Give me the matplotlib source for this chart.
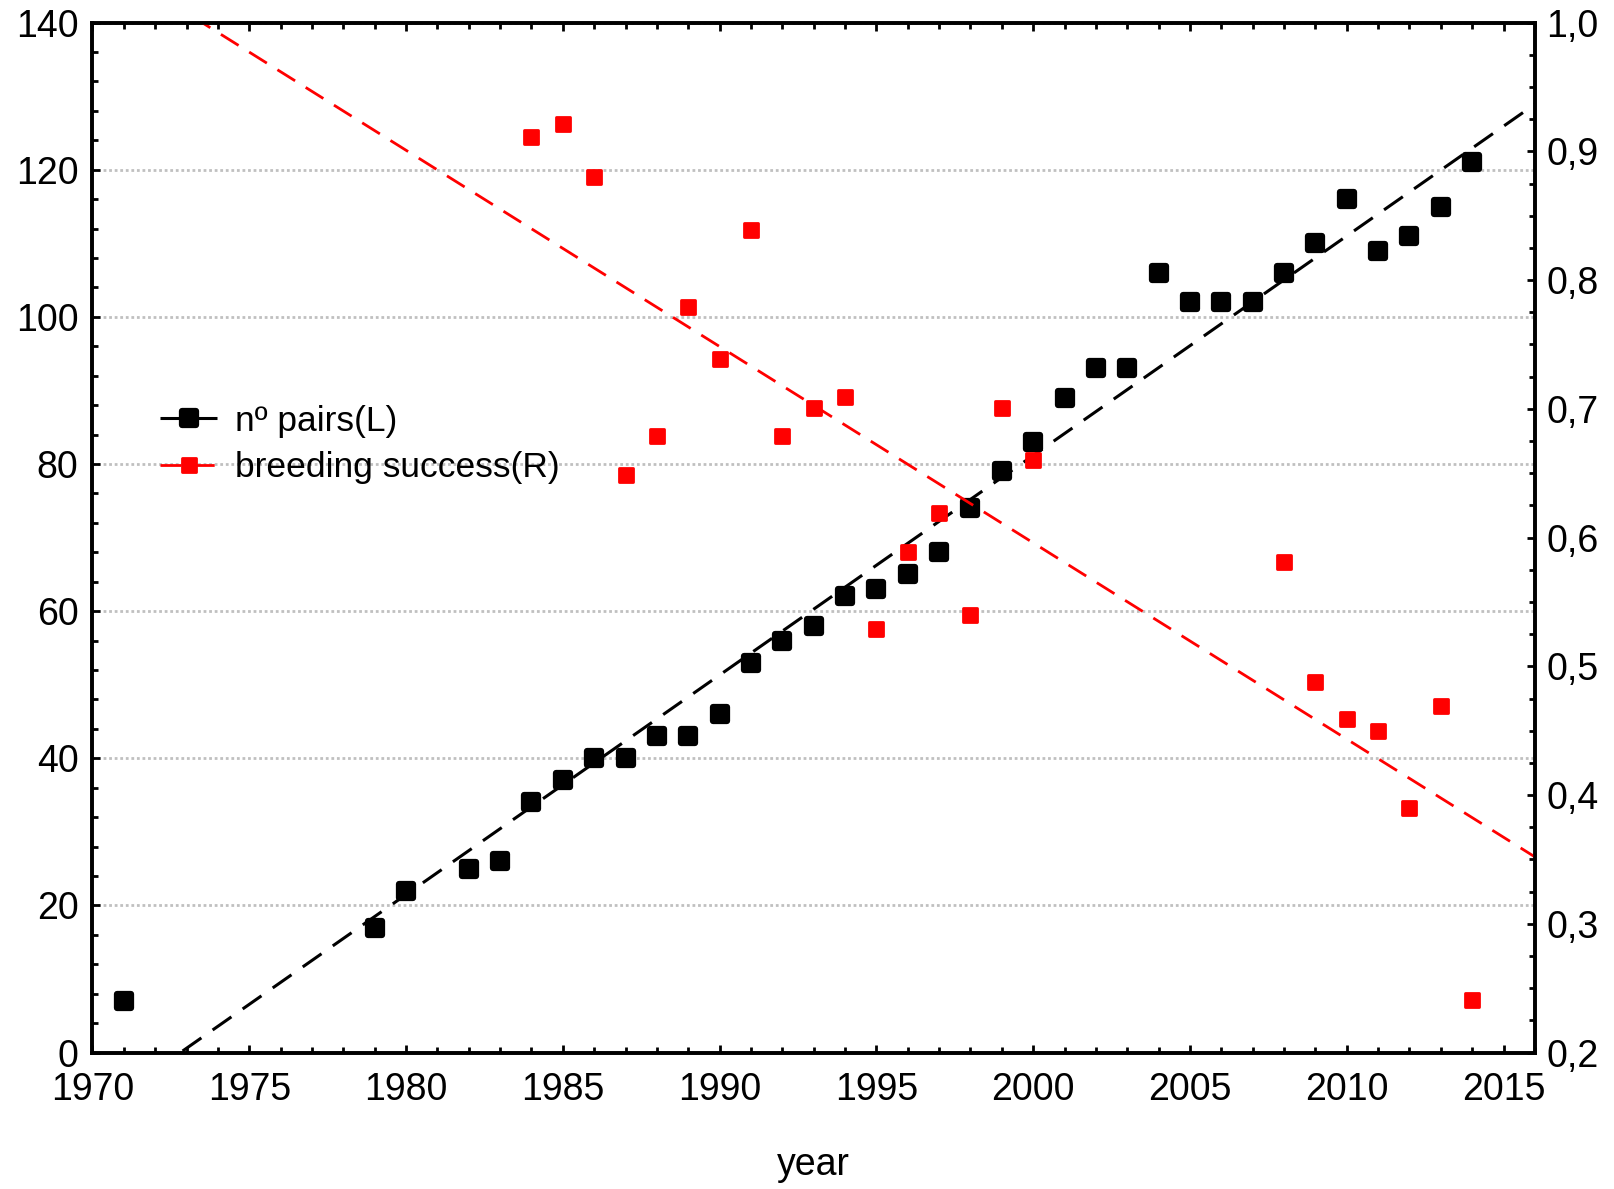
import numpy as np
import matplotlib
matplotlib.use("Agg")
import matplotlib.pyplot as plt
from matplotlib.markers import MarkerStyle
from matplotlib.ticker import MultipleLocator, FuncFormatter

plt.rcParams["font.family"] = ["Liberation Sans", "DejaVu Sans"]

# number of pairs (left axis)
pair_years = [1971, 1979, 1980, 1982, 1983, 1984, 1985, 1986, 1987, 1988, 1989,
              1990, 1991, 1992, 1993, 1994, 1995, 1996, 1997, 1998, 1999, 2000,
              2001, 2002, 2003, 2004, 2005, 2006, 2007, 2008, 2009, 2010, 2011,
              2012, 2013, 2014]
pairs = [7, 17, 22, 25, 26, 34, 37, 40, 40, 43, 43,
         46, 53, 56, 58, 62, 63, 65, 68, 74, 79, 83,
         89, 93, 93, 106, 102, 102, 102, 106, 110, 116, 109,
         111, 115, 121]

# breeding success (right axis)
success_years = [1984, 1985, 1986, 1987, 1988, 1989, 1990, 1991, 1992, 1993,
                 1994, 1995, 1996, 1997, 1998, 1999, 2000,
                 2008, 2009, 2010, 2011, 2012, 2013, 2014]
success = [0.911, 0.921, 0.880, 0.649, 0.679, 0.779, 0.739, 0.839, 0.679, 0.701,
           0.709, 0.529, 0.589, 0.619, 0.540, 0.701, 0.660,
           0.581, 0.488, 0.459, 0.450, 0.390, 0.469, 0.241]

fig = plt.figure(figsize=(16.14, 11.89), dpi=100)
ax = fig.add_axes([0.0573, 0.1147, 0.8937, 0.8663])
ax2 = ax.twinx()

fit_x = np.array([1970, 2016])

# linear fits
b1 = np.polyfit(pair_years, pairs, 1)
b2 = np.polyfit(success_years, success, 1)

ax.plot(fit_x, np.polyval(b1, fit_x), color="black", lw=2.2,
        dashes=(7.5, 4.5), zorder=2)
ax2.plot(fit_x, np.polyval(b2, fit_x), color="red", lw=2.0,
         dashes=(7.5, 4.5), zorder=2)

black_m = MarkerStyle("s", joinstyle="round")
red_m = MarkerStyle("s", joinstyle="round")
bk = dict(marker=black_m, ms=10, mfc="black", mec="black", mew=4.5)
rd = dict(marker=red_m, ms=10.5, mfc="red", mec="red", mew=2)
ax.plot(pair_years, pairs, ls="none", zorder=3, **bk)
ax2.plot(success_years, success, ls="none", zorder=3, **rd)

ax.set_xlim(1970, 2016)
ax.set_ylim(0, 140)
ax2.set_ylim(0.2, 1.0)

ax.xaxis.set_major_locator(MultipleLocator(5))
ax.xaxis.set_minor_locator(MultipleLocator(1))
ax.yaxis.set_major_locator(MultipleLocator(20))
ax.yaxis.set_minor_locator(MultipleLocator(4))
ax2.yaxis.set_major_locator(MultipleLocator(0.1))
ax2.yaxis.set_minor_locator(MultipleLocator(0.025))
ax2.yaxis.set_major_formatter(FuncFormatter(lambda v, p: f"{v:.1f}".replace(".", ",")))

ax.grid(axis="y", which="major", color="#c0c0c0", lw=2, ls=(0, (1, 1)))

for a in (ax, ax2):
    for s in a.spines.values():
        s.set_linewidth(2.6)
    a.tick_params(which="both", direction="in", width=2, labelsize=27,
                  top=True)
    a.tick_params(which="major", length=6)
    a.tick_params(which="minor", length=4)
ax.tick_params(axis="y", right=False, pad=10)
ax.tick_params(axis="x", pad=14)
ax2.tick_params(axis="y", pad=8)

ax.set_xlabel("year", fontsize=27, labelpad=28)

h1, = ax.plot([], [], color="black", lw=2.2, dashes=(7.5, 4.5), **bk)
h2, = ax.plot([], [], color="red", lw=2.0, dashes=(7.5, 4.5), **rd)
leg = ax2.legend([h1, h2], ["nº pairs(L)", "breeding success(R)"],
                 loc="upper left", bbox_to_anchor=(0.025, 0.66), frameon=False,
                 fontsize=25.5, handlelength=1.6, handletextpad=0.5,
                 labelspacing=0.38, numpoints=1)

fig.savefig("out.png", dpi=100)
